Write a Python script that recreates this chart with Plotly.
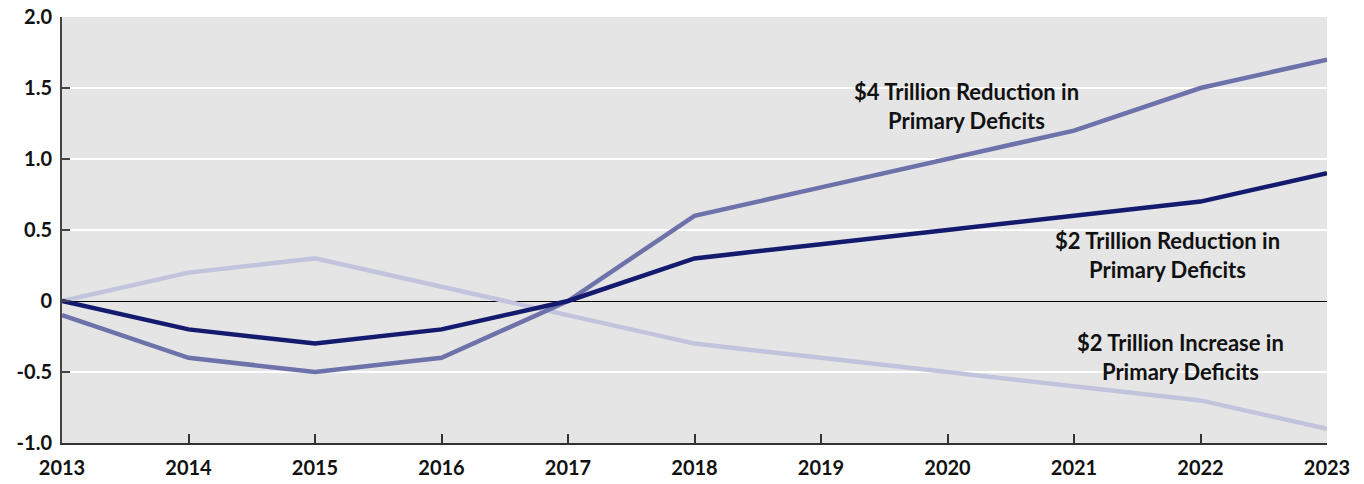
import plotly.graph_objects as go

years = [2013, 2014, 2015, 2016, 2017, 2018, 2019, 2020, 2021, 2022, 2023]
red4 = [-0.1, -0.4, -0.5, -0.4, 0.0, 0.6, 0.8, 1.0, 1.2, 1.5, 1.7]
red2 = [0.0, -0.2, -0.3, -0.2, 0.0, 0.3, 0.4, 0.5, 0.6, 0.7, 0.9]
inc2 = [0.0, 0.2, 0.3, 0.1, -0.1, -0.3, -0.4, -0.5, -0.6, -0.7, -0.9]
ytick_vals = [-1.0, -0.5, 0, 0.5, 1.0, 1.5, 2.0]
ytick_text = ["-1.0", "-0.5", "0", "0.5", "1.0", "1.5", "2.0"]

FONT = "Lato, DejaVu Sans Condensed, sans-serif"

fig = go.Figure()
fig.add_trace(go.Scatter(x=years, y=inc2, mode="lines",
                         line=dict(color="#c2c4de", width=4.5), showlegend=False))
fig.add_trace(go.Scatter(x=years, y=red4, mode="lines",
                         line=dict(color="#6e72aa", width=4.5), showlegend=False))
fig.add_trace(go.Scatter(x=years, y=red2, mode="lines",
                         line=dict(color="#141a6e", width=4.5), showlegend=False))

ann_font = dict(family=FONT, size=22, color="#111111")
fig.add_annotation(x=2020.15, y=1.373, text="<b>$4 Trillion Reduction in<br>Primary Deficits</b>",
                   showarrow=False, font=ann_font, align="center")
fig.add_annotation(x=2021.74, y=0.327, text="<b>$2 Trillion Reduction in<br>Primary Deficits</b>",
                   showarrow=False, font=ann_font, align="center")
fig.add_annotation(x=2021.84, y=-0.394, text="<b>$2 Trillion Increase in<br>Primary Deficits</b>",
                   showarrow=False, font=ann_font, align="center")

fig.update_layout(
    width=1364, height=484,
    margin=dict(l=62, r=37, t=17, b=41),
    paper_bgcolor="white", plot_bgcolor="#e5e5e5",
    font=dict(family=FONT, size=20, color="#111111"),
    xaxis=dict(range=[2013, 2023], tickmode="array", tickvals=years,
               ticktext=[f"<b>{y}</b>" for y in years], automargin=False,
               ticklabelstandoff=6,
               showgrid=False, zeroline=False, showline=True, linecolor="#333333",
               linewidth=2, ticks="inside", ticklen=9, tickcolor="#333333", tickwidth=1.5),
    yaxis=dict(range=[-1.0, 2.0], tickmode="array", tickvals=ytick_vals,
               ticktext=[f"<b>{t}</b>" for t in ytick_text], automargin=False,
               ticklabelstandoff=4,
               showgrid=True, gridcolor="white", gridwidth=1.5,
               zeroline=True, zerolinecolor="black", zerolinewidth=1.2,
               showline=True, linecolor="#444444", linewidth=2,
               ticks="inside", ticklen=8, tickcolor="#444444", tickwidth=1.5),
)

fig.write_html("out.html", config={"displayModeBar": False},
               post_script="document.body.style.margin='0';document.body.style.overflow='hidden';")
